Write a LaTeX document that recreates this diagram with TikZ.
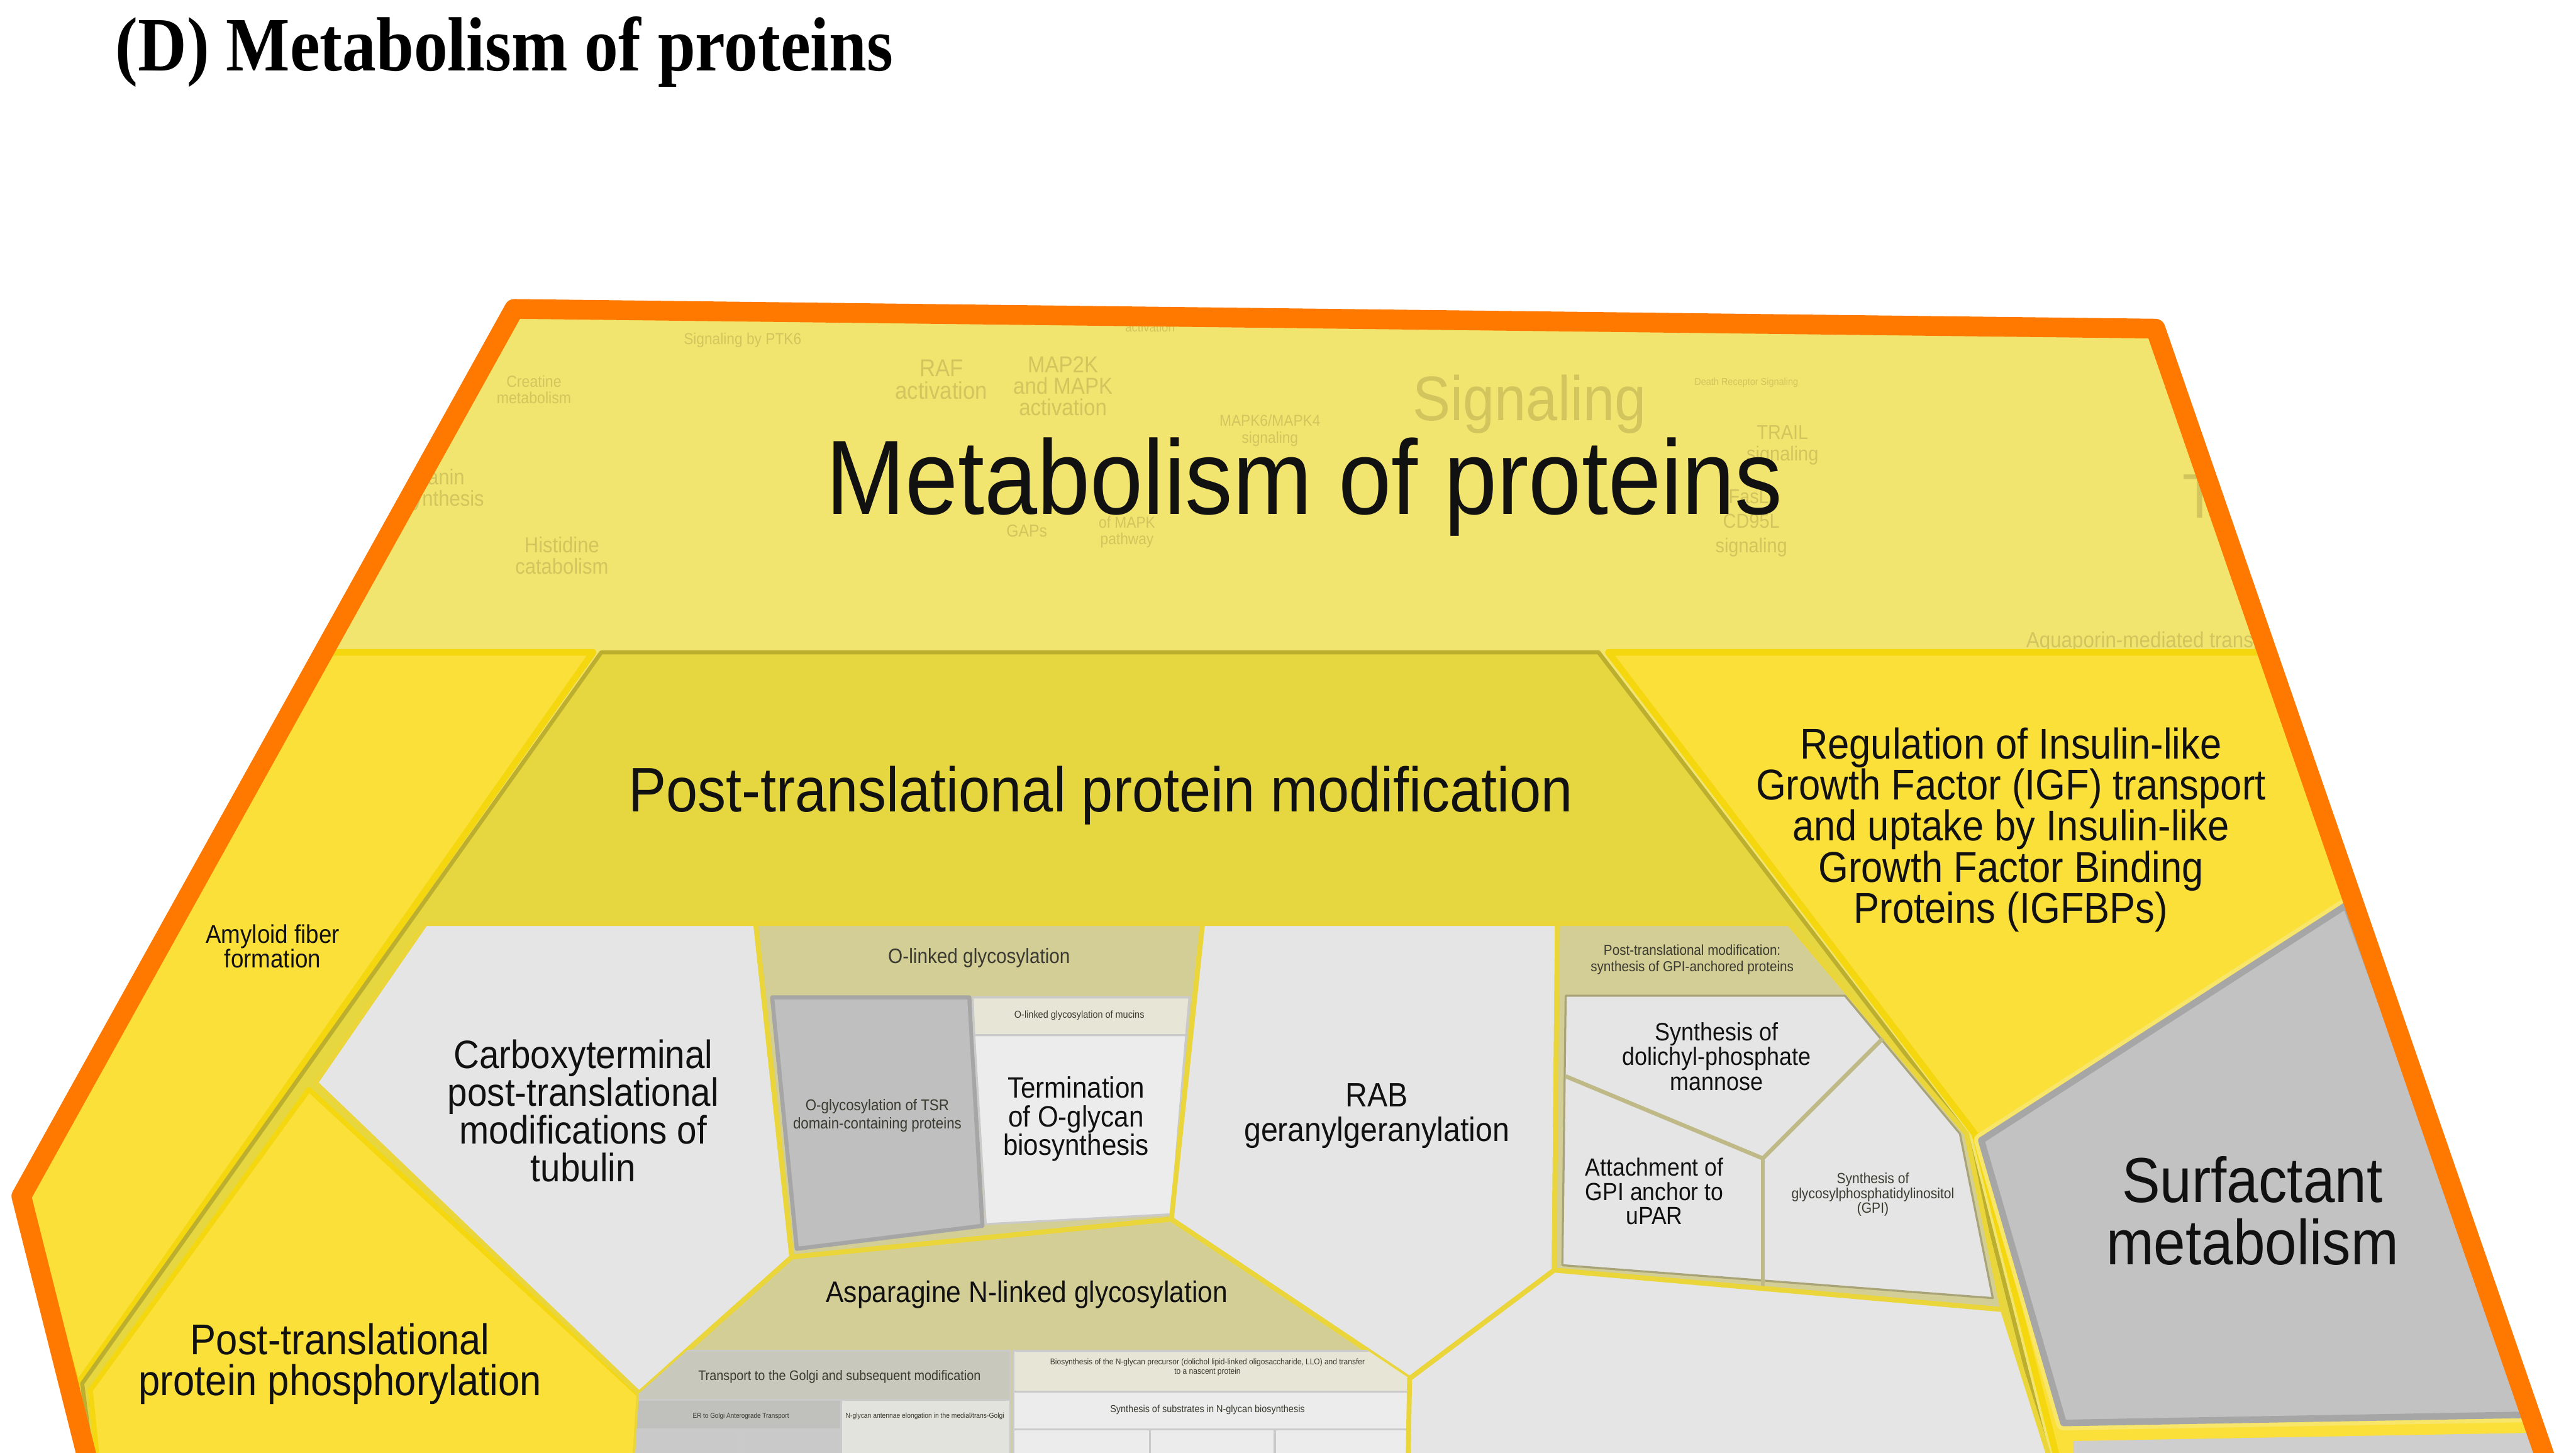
\documentclass[tikz,border=0pt]{standalone}
\usepackage{fontspec}
\setmainfont{Liberation Sans}[FakeStretch=0.9]
\newfontfamily\titlefont{Liberation Serif}[FakeStretch=0.88]
\usepackage{tikz}
\definecolor{rootbg}{HTML}{F2E56F}
\definecolor{rootline}{HTML}{FF7800}
\definecolor{ptmbg}{HTML}{E6D640}
\definecolor{ptmline}{HTML}{BCAF30}
\definecolor{sunbg}{HTML}{FCE03A}
\definecolor{sunline}{HTML}{F4D70E}
\definecolor{sunhalo}{HTML}{F7E66A}
\definecolor{tileline}{HTML}{EAD63A}
\definecolor{palebg}{HTML}{E5E5E5}
\definecolor{paler}{HTML}{ECECEC}
\definecolor{olivebg}{HTML}{D3CD96}
\definecolor{olivepale}{HTML}{E7E5D5}
\definecolor{olivegrey}{HTML}{C9C8BD}
\definecolor{greybg}{HTML}{BFBFBF}
\definecolor{surfbg}{HTML}{C2C2C2}
\definecolor{greyline}{HTML}{A6A6A6}
\definecolor{ghosttext}{HTML}{D2C55E}
\definecolor{labeltext}{HTML}{111111}
\definecolor{smalltext}{HTML}{3A3A30}
\newcommand{\fsz}[2]{\fontsize{#1}{#2}\selectfont}
\tikzset{
    region/.style={fill=#1, draw=tileline, line width=0.6mm, line join=round},
    subtile/.style={fill=#1, draw=greyline!60, line width=0.25mm, line join=round},
    maplabel/.style={align=center, inner sep=0pt, text=labeltext},
    minilabel/.style={align=center, inner sep=0pt, text=smalltext},
    ghostlabel/.style={align=center, inner sep=0pt, text=ghosttext}
}

\begin{document}
\begin{tikzpicture}[x=0.2mm, y=-0.2mm]
\useasboundingbox (0,0) rectangle (1568,884);
\fill[white] (0,0) rectangle (1568,884);
\clip (0,0) rectangle (1568,884);

\coordinate (o1) at (313,188);
\coordinate (o2) at (1312,200);
\coordinate (o3) at (1552,895);
\coordinate (o4) at (55,895);
\coordinate (o5) at (13,728);

\fill[rootbg] (o1) -- (o2) -- (o3) -- (o4) -- (o5) -- cycle;

\begin{scope}
    \clip (o1) -- (o2) -- (o3) -- (o4) -- (o5) -- cycle;
    \node[ghostlabel, font=\fsz{5.5}{6}] (g1) at (452,207) {Signaling by PTK6};
    \node[ghostlabel, font=\fsz{5.6}{5.8}] (g2) at (325,237) {Creatine\\metabolism};
    \node[ghostlabel, font=\fsz{8.4}{8}] (g3) at (573,231) {RAF\\activation};
    \node[ghostlabel, font=\fsz{8}{7.4}] (g4) at (647,235) {MAP2K\\and MAPK\\activation};
    \node[ghostlabel, font=\fsz{4.5}{5}] (g5) at (700,199) {activation};
    \node[ghostlabel, font=\fsz{5.5}{5.7}] (g6) at (773,262) {MAPK6/MAPK4\\signaling};
    \node[ghostlabel, font=\fsz{21.8}{21}] (g7) at (931,246) {Signaling};
    \node[ghostlabel, font=\fsz{7}{7.4}] (g8) at (1085,271) {TRAIL\\signaling};
    \node[ghostlabel, font=\fsz{7}{8.5}] (g9) at (1066,318) {FasL/\\CD95L\\signaling};
    \node[ghostlabel, font=\fsz{7.5}{7.4}] (g10) at (342,338) {Histidine\\catabolism};
    \node[ghostlabel, font=\fsz{7.5}{7.4}] (g11) at (262,298) {Melanin\\biosynthesis};
    \node[ghostlabel, font=\fsz{7.6}{8}, anchor=base west] (g12) at (1233,394) {Aquaporin-mediated transport};
    \node[ghostlabel, font=\fsz{21.8}{22}, anchor=west] (g13) at (1328,306) {Transport};
    \node[ghostlabel, font=\fsz{6}{6}] (g14) at (625,323) {GAPs};
    \node[ghostlabel, font=\fsz{5.5}{5.7}] (g15) at (686,324) {of MAPK\\pathway};
    \node[ghostlabel, font=\fsz{3.5}{4}] (g16) at (1063,233) {Death Receptor Signaling};
\end{scope}

\draw[fill=sunbg, draw=sunline, line width=0.8mm, line join=round] (197,397) -- (361,397) -- (47,843) -- (13,728) -- cycle;
\draw[fill=ptmbg, draw=ptmline, line width=0.5mm, line join=round] (366,397) -- (973,397) -- (1197,690) -- (1249,895) -- (57,895) -- (50,842) -- cycle;
\draw[fill=sunbg, draw=sunline, line width=0.8mm, line join=round] (979,397) -- (1381,397) -- (1552,895) -- (1254,895) -- (1202,690) -- cycle;

\draw[sunhalo, line width=1.8mm, line join=round] (1206,694) -- (1428,551) -- (1541,861) -- (1256,866) -- cycle;
\draw[fill=surfbg, draw=greyline, line width=0.8mm, line join=round] (1206,694) -- (1428,551) -- (1541,861) -- (1256,866) -- cycle;
\fill[palebg!90!black] (1262,877) -- (1543,872) -- (1548,895) -- (1262,895) -- cycle;

\draw[region=sunbg, draw=sunline] (188,663) -- (389,849) -- (386,895) -- (60,895) -- (55,846) -- cycle;
\draw[region=palebg] (192,659) -- (259,562) -- (460,562) -- (482,765) -- (389,848) -- cycle;

\draw[region=olivebg] (460,562) -- (732,562) -- (713,742) -- (482,765) -- cycle;
\begin{scope}
    \clip (460,562) -- (732,562) -- (713,742) -- (482,765) -- cycle;
    \draw[subtile=greybg, draw=greyline, line width=0.5mm] (470,607) -- (590,607) -- (598,746) -- (485,760) -- cycle;
    \draw[subtile=olivepale] (592,607) -- (724,607) -- (722,630) -- (593,630) -- cycle;
    \draw[subtile=paler] (593,630) -- (722,630) -- (713,739) -- (600,745) -- cycle;
\end{scope}

\draw[region=palebg] (732,562) -- (948,562) -- (946,773) -- (858,839) -- (713,742) -- cycle;

\draw[region=olivebg] (948,562) -- (1089,562) -- (1197,690) -- (1219,797) -- (946,773) -- cycle;
\begin{scope}
    \clip (948,562) -- (1089,562) -- (1197,690) -- (1219,797) -- (946,773) -- cycle;
    \draw[subtile=palebg, draw=olivebg!80!black] (953,606) -- (1123,606) -- (1193,690) -- (1213,790) -- (951,770) -- cycle;
    \draw[olivebg!90!black, line width=0.5mm] (953,655) -- (1073,705) -- (1146,632);
    \draw[olivebg!90!black, line width=0.5mm] (1073,705) -- (1073,786);
\end{scope}

\draw[region=olivebg] (482,765) -- (713,742) -- (858,839) -- (857,895) -- (386,895) -- (389,848) -- cycle;
\begin{scope}
    \clip (482,765) -- (713,742) -- (858,839) -- (857,895) -- (386,895) -- (389,848) -- cycle;
    \draw[subtile=olivegrey] (380,822) -- (615,822) -- (615,852) -- (380,852) -- cycle;
    \draw[subtile=greybg!95!olivebg] (380,852) -- (512,852) -- (512,870) -- (380,870) -- cycle;
    \draw[subtile=greybg!85!white] (380,870) -- (450,870) -- (450,895) -- (380,895) -- cycle;
    \draw[subtile=greybg!85!white] (450,870) -- (512,870) -- (512,895) -- (450,895) -- cycle;
    \draw[subtile=palebg!90!olivebg] (512,852) -- (615,852) -- (615,895) -- (512,895) -- cycle;
    \draw[subtile=olivepale] (617,822) -- (870,822) -- (870,847) -- (617,847) -- cycle;
    \draw[subtile=paler] (617,847) -- (870,847) -- (870,870) -- (617,870) -- cycle;
    \draw[subtile=paler] (617,870) -- (700,870) -- (700,895) -- (617,895) -- cycle;
    \draw[subtile=paler] (700,870) -- (776,870) -- (776,895) -- (700,895) -- cycle;
    \draw[subtile=paler] (776,870) -- (870,870) -- (870,895) -- (776,895) -- cycle;
\end{scope}

\draw[region=palebg] (858,839) -- (946,773) -- (1219,797) -- (1250,895) -- (857,895) -- cycle;

\draw[rootline, line width=2.4mm, line join=round] (o4) -- (o5) -- (o1) -- (o2) -- (o3);

\node[maplabel, anchor=base, font=\fsz{36.6}{40}] (lblMain) at (794,313) {Metabolism of proteins};
\node[maplabel, anchor=base, font=\fsz{21.8}{24}] (lblPTM) at (670,494) {Post-translational protein modification};
\node[maplabel, font=\fsz{14.9}{14.2}] (lblIGF) at (1224,505) {Regulation of Insulin-like\\Growth Factor (IGF) transport\\and uptake by Insulin-like\\Growth Factor Binding\\Proteins (IGFBPs)};
\node[maplabel, font=\fsz{22}{21.6}] (lblSurf) at (1371,737) {Surfactant\\metabolism};
\node[maplabel, font=\fsz{13.7}{13.1}] (lblCarboxy) at (355,676) {Carboxyterminal\\post-translational\\modifications of\\tubulin};
\node[maplabel, font=\fsz{14.9}{14.2}] (lblPhos) at (207,830) {Post-translational\\protein phosphorylation};
\node[maplabel, font=\fsz{11.7}{12}] (lblRAB) at (838,679) {RAB\\geranylgeranylation};
\node[maplabel, font=\fsz{10.2}{10}] (lblTerm) at (655,681) {Termination\\of O-glycan\\biosynthesis};
\node[maplabel, font=\fsz{10.3}{11}] (lblAsn) at (625,788) {Asparagine N-linked glycosylation};
\node[maplabel, font=\fsz{8.9}{8.5}] (lblAmyloid) at (166,576) {Amyloid fiber\\formation};
\node[minilabel, font=\fsz{7.2}{8}] (lblOLinked) at (596,583) {O-linked glycosylation};
\node[maplabel, font=\fsz{8.7}{8.5}] (lblDolichyl) at (1045,643) {Synthesis of\\dolichyl-phosphate\\mannose};
\node[maplabel, font=\fsz{8.6}{8.3}] (lblAttach) at (1007,725) {Attachment of\\GPI anchor to\\uPAR};
\node[minilabel, font=\fsz{5.4}{6.2}] (lblTSR) at (534,679) {O-glycosylation of TSR\\domain-containing proteins};
\node[minilabel, font=\fsz{3.5}{4}] (lblMucins) at (657,618) {O-linked glycosylation of mucins};
\node[minilabel, font=\fsz{5}{5.7}] (lblGPIhead) at (1030,584) {Post-translational modification:\\synthesis of GPI-anchored proteins};
\node[minilabel, font=\fsz{5.1}{5.1}] (lblGPIsynth) at (1140,727) {Synthesis of\\glycosylphosphatidylinositol\\(GPI)};
\node[minilabel, font=\fsz{4.8}{5}] (lblTransport) at (511,838) {Transport to the Golgi and subsequent modification};
\node[minilabel, font=\fsz{2.9}{3.3}] (lblLLO) at (735,832) {Biosynthesis of the N-glycan precursor (dolichol lipid-linked oligosaccharide, LLO) and transfer\\to a nascent protein};
\node[minilabel, font=\fsz{3.5}{4}] (lblSubstrates) at (735,858) {Synthesis of substrates in N-glycan biosynthesis};
\node[minilabel, font=\fsz{2.4}{3}] (lblER) at (451,862) {ER to Golgi Anterograde Transport};
\node[minilabel, font=\fsz{2.5}{3}] (lblAntennae) at (563,862) {N-glycan antennae elongation in the medial/trans-Golgi};

\node[anchor=base west, inner sep=0pt, font=\titlefont\bfseries\fsz{26.6}{30}] (title) at (70,43) {(D) Metabolism of proteins};
\end{tikzpicture}
\end{document}
